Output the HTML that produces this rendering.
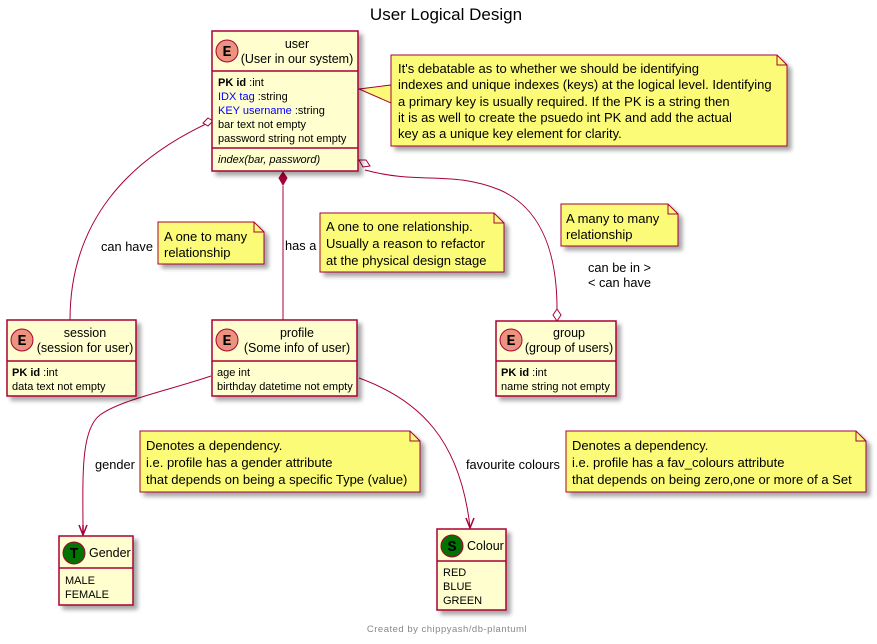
<!DOCTYPE html>
<html><head><meta charset="utf-8"><style>
html,body{margin:0;padding:0;background:#fff;}
svg{display:block;}
text{font-family:"Liberation Sans",sans-serif;fill:#000;}
text.m{font-family:"Liberation Mono",monospace;}
</style></head><body>
<svg width="877" height="644" viewBox="0 0 877 644" xmlns="http://www.w3.org/2000/svg">
<defs>
<filter id="sh" x="-10%" y="-10%" width="130%" height="130%"><feGaussianBlur in="SourceAlpha" stdDeviation="2"/><feOffset dx="4" dy="4"/><feComponentTransfer><feFuncA type="linear" slope="0.35"/></feComponentTransfer><feMerge><feMergeNode/><feMergeNode in="SourceGraphic"/></feMerge></filter>
</defs>
<text x="446" y="20" font-size="17" text-anchor="middle">User Logical Design</text>

<g fill="none" stroke="#A80036" stroke-width="1">
<path d="M206,124 C130,160 70,220 70,320"/>
<path d="M283,186 L283,320"/>
<path d="M365,170 C420,185 450,170 500,190 C545,210 557,260 557,309"/>
<path d="M211,376 C170,390 120,400 100,415 C80,430 83,480 83,533"/>
<path d="M359,378 C420,400 460,440 470,527"/>
<path d="M359,89 L391,85 L391,103 Z" fill="#FBFB77"/>
</g>
<path d="M203,123 L208,118 L213,121 L208,126 Z" fill="#fff" stroke="#A80036"/>
<path d="M283,172 L287,178 L283,185 L279,178 Z" fill="#A80036" stroke="#A80036"/>
<path d="M359,160 L366,160 L370,166 L363,167 Z" fill="#fff" stroke="#A80036"/>
<path d="M557,309 L561,315 L557,321 L553,315 Z" fill="#fff" stroke="#A80036"/>
<path d="M79,525 L83,535 L87,525 M83,535 L83,525" fill="none" stroke="#A80036" stroke-width="1.5"/>
<path d="M466,518 L470,528 L474,518" fill="none" stroke="#A80036" stroke-width="1.5"/>

<g font-size="12.8">
<text x="101" y="251">can have</text>
<text x="285" y="250">has a</text>
<text x="588" y="272">can be in &gt;</text>
<text x="588" y="287">&lt; can have</text>
<text x="95" y="469">gender</text>
<text x="466" y="469">favourite colours</text>
</g>

<g stroke="#A80036" stroke-width="1" fill="#FBFB77" filter="url(#sh)">
<path d="M391,55 L777,55 L787,65 L787,146 L391,146 Z"/>
<path d="M158,222 L254,222 L264,232 L264,264 L158,264 Z"/>
<path d="M320,213 L494,213 L504,223 L504,272 L320,272 Z"/>
<path d="M561,204 L668,204 L678,214 L678,246 L561,246 Z"/>
<path d="M140,431 L410,431 L420,441 L420,492 L140,492 Z"/>
<path d="M566,431 L856,431 L866,441 L866,492 L566,492 Z"/>
</g>
<g fill="none" stroke="#A80036">
<path d="M777,55 L777,65 L787,65"/><path d="M254,222 L254,232 L264,232"/><path d="M494,213 L494,223 L504,223"/>
<path d="M668,204 L668,214 L678,214"/><path d="M410,431 L410,441 L420,441"/><path d="M856,431 L856,441 L866,441"/>
</g>
<g font-size="13">
<text x="398" y="73">It's debatable as to whether we should be identifying</text>
<text x="398" y="89">indexes and unique indexes (keys) at the logical level. Identifying</text>
<text x="398" y="106">a primary key is usually required. If the PK is a string then</text>
<text x="398" y="122">it is as well to create the psuedo int PK and add the actual</text>
<text x="398" y="138">key as a unique key element for clarity.</text>
<text x="164" y="241">A one to many</text><text x="164" y="257">relationship</text>
<text x="326" y="231">A one to one relationship.</text>
<text x="326" y="248">Usually a reason to refactor</text>
<text x="326" y="265">at the physical design stage</text>
<text x="566" y="223">A many to many</text><text x="566" y="239">relationship</text>
<text x="146" y="450">Denotes a dependency.</text>
<text x="146" y="467">i.e. profile has a gender attribute</text>
<text x="146" y="484">that depends on being a specific Type (value)</text>
<text x="572" y="450">Denotes a dependency.</text>
<text x="572" y="467">i.e. profile has a fav_colours attribute</text>
<text x="572" y="484">that depends on being zero,one or more of a Set</text>
</g>

<g stroke="#A80036" stroke-width="1.5" fill="#FEFECE" filter="url(#sh)">
<rect x="212" y="31" width="146" height="140"/>
<rect x="7" y="320" width="129" height="76"/>
<rect x="212" y="320" width="145" height="76"/>
<rect x="496" y="321" width="120" height="75"/>
<rect x="59" y="536" width="74" height="69"/>
<rect x="437" y="529" width="69" height="81"/>
</g>
<g stroke="#A80036" stroke-width="1.5">
<line x1="212" y1="71" x2="358" y2="71"/><line x1="212" y1="148" x2="358" y2="148"/>
<line x1="7" y1="361" x2="136" y2="361"/>
<line x1="212" y1="361" x2="357" y2="361"/>
<line x1="496" y1="361" x2="616" y2="361"/>
<line x1="59" y1="568" x2="133" y2="568"/>
<line x1="437" y1="561" x2="506" y2="561"/>
</g>
<g stroke="#A80036" stroke-width="1">
<circle cx="227" cy="51" r="11" fill="#EB937F"/>
<circle cx="22" cy="340" r="11" fill="#EB937F"/>
<circle cx="227" cy="340" r="11" fill="#EB937F"/>
<circle cx="511" cy="340" r="11" fill="#EB937F"/>
<circle cx="74" cy="553" r="11" fill="#007300"/>
<circle cx="452" cy="546" r="11" fill="#007300"/>
</g>
<g font-weight="bold" font-size="15" text-anchor="middle">
<text class="m" x="227" y="56">E</text>
<text class="m" x="22" y="345">E</text>
<text class="m" x="227" y="345">E</text>
<text class="m" x="511" y="345">E</text>
<text class="m" x="74" y="558">T</text>
<text class="m" x="452" y="551">S</text>
</g>
<g font-size="12.5" text-anchor="middle">
<text x="297" y="48">user</text><text x="297" y="63">(User in our system)</text>
<text x="85" y="337">session</text><text x="85" y="352">(session for user)</text>
<text x="297" y="337">profile</text><text x="297" y="352">(Some info of user)</text>
<text x="569" y="337">group</text><text x="569" y="352">(group of users)</text>
</g>
<g font-size="12.5"><text x="89" y="557">Gender</text><text x="467" y="550">Colour</text></g>
<g font-size="11">
<text x="218" y="86"><tspan font-weight="bold">PK id</tspan> :int</text>
<text x="218" y="100"><tspan fill="#0000FF">IDX tag</tspan> :string</text>
<text x="218" y="114"><tspan fill="#0000FF">KEY username</tspan> :string</text>
<text x="218" y="128">bar text not empty</text>
<text x="218" y="142">password string not empty</text>
<text x="218" y="163" font-style="italic">index(bar, password)</text>
<text x="12" y="376"><tspan font-weight="bold">PK id</tspan> :int</text>
<text x="12" y="390">data text not empty</text>
<text x="217" y="376">age int</text>
<text x="217" y="390">birthday datetime not empty</text>
<text x="501" y="376"><tspan font-weight="bold">PK id</tspan> :int</text>
<text x="501" y="390">name string not empty</text>
<text x="65" y="584">MALE</text><text x="65" y="598">FEMALE</text>
<text x="443" y="576">RED</text><text x="443" y="590">BLUE</text><text x="443" y="604">GREEN</text>
</g>
<text x="447" y="632" font-size="9.5" text-anchor="middle" style="fill:#888;letter-spacing:0.5px">Created by chippyash/db-plantuml</text>
</svg>
</body></html>
